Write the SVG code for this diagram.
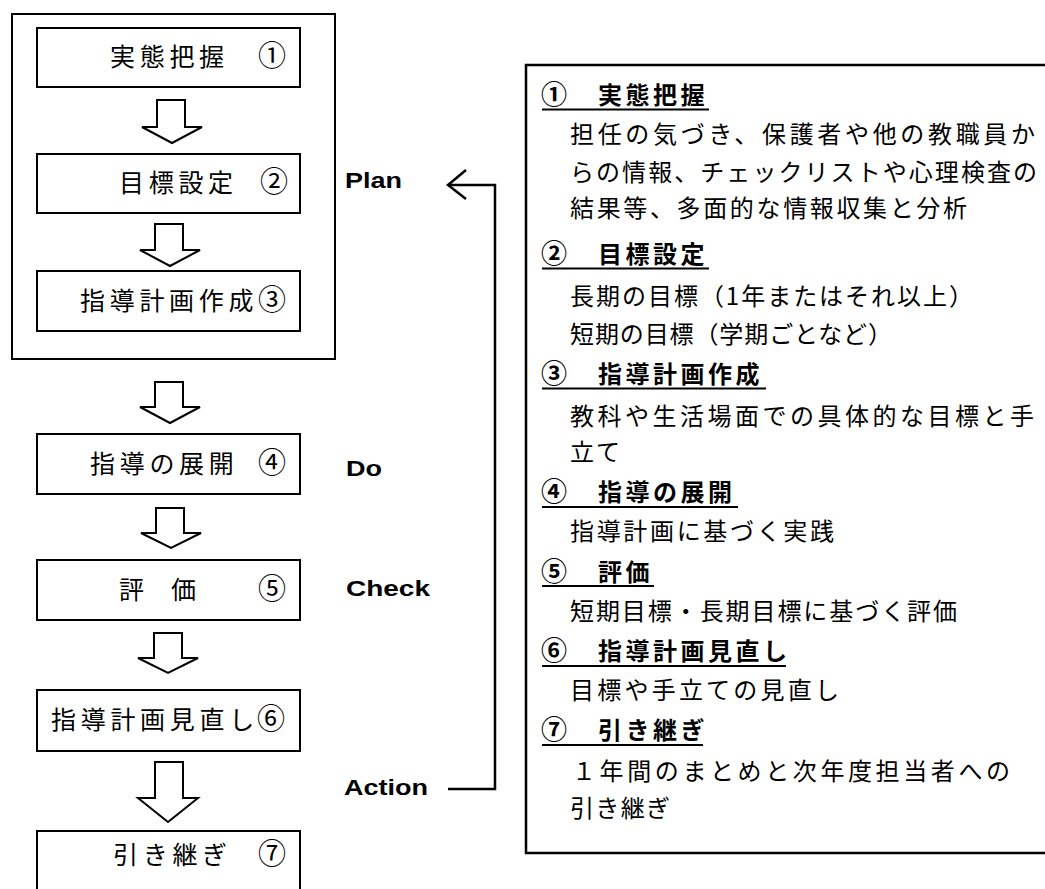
<svg xmlns="http://www.w3.org/2000/svg" width="1045" height="889" viewBox="0 0 1045 889">
<style>
.box{fill:#fff;stroke:#000;stroke-width:2}
.arr{fill:#fff;stroke:#000;stroke-width:2;stroke-linejoin:miter}
.lbl{font-family:"Noto Sans CJK JP","Noto Sans CJK SC",sans-serif;font-size:25px;letter-spacing:4.7px;fill:#000}
.cn{font-size:28px;letter-spacing:0}
.pdca{font-family:"Liberation Sans",Arial,sans-serif;font-weight:bold;font-size:22px;fill:#000}
.h{font-family:"Noto Sans CJK JP","Noto Sans CJK SC",sans-serif;font-size:24px;font-weight:bold;letter-spacing:3.5px;fill:#000}
.hc{font-size:26px;letter-spacing:0}
.b{font-family:"Noto Sans CJK JP","Noto Sans CJK SC",sans-serif;font-size:24px;fill:#000}
.ul{stroke:#000;stroke-width:2}
.conn{fill:none;stroke:#000;stroke-width:2.5}
</style>
<rect width="1045" height="889" fill="#fff"/>
<g id="plan-group"><rect x="12" y="14" width="323" height="345" fill="none" stroke="#000" stroke-width="2"/></g>
<g id="node1"><rect class="box" x="37" y="28" width="263" height="59"/><text class="lbl" x="110" y="66">実態把握<tspan class="cn" x="258">①</tspan></text></g>
<g id="node2"><rect class="box" x="37" y="154" width="263" height="59"/><text class="lbl" x="119" y="192">目標設定<tspan class="cn" x="260">②</tspan></text></g>
<g id="node3"><rect class="box" x="37" y="271" width="263" height="60"/><text class="lbl" x="80" y="310">指導計画作成<tspan class="cn" x="258">③</tspan></text></g>
<g id="node4"><rect class="box" x="37" y="434" width="263" height="60"/><text class="lbl" x="90" y="473">指導の展開<tspan class="cn" x="258">④</tspan></text></g>
<g id="node5"><rect class="box" x="37" y="560" width="263" height="60"/><text class="lbl" x="119" y="599">評<tspan x="171">価</tspan><tspan class="cn" x="258">⑤</tspan></text></g>
<g id="node6"><rect class="box" x="37" y="690" width="263" height="61"/><text class="lbl" x="51" y="729">指導計画見直し<tspan class="cn" x="257">⑥</tspan></text></g>
<g id="node7"><rect class="box" x="37" y="831" width="263" height="80"/><text class="lbl" x="113" y="864">引き継ぎ<tspan class="cn" x="258">⑦</tspan></text></g>
<g id="pdca-labels">
<text class="pdca" x="345" y="188" textLength="57" lengthAdjust="spacingAndGlyphs">Plan</text>
<text class="pdca" x="346" y="476" textLength="36" lengthAdjust="spacingAndGlyphs">Do</text>
<text class="pdca" x="346" y="596" textLength="84" lengthAdjust="spacingAndGlyphs">Check</text>
<text class="pdca" x="344" y="795" textLength="84" lengthAdjust="spacingAndGlyphs">Action</text>
</g>
<g id="connectors">
<path class="arr" d="M157,100 H185 V127 H202 L172,143 L142,127 H157 Z"/>
<path class="arr" d="M155,224 H183 V250 H200 L170,266 L140,250 H155 Z"/>
<path class="arr" d="M155,382 H183 V407 H200 L170,423 L140,407 H155 Z"/>
<path class="arr" d="M156,508 H184 V533 H201 L171,548 L141,533 H156 Z"/>
<path class="arr" d="M154,633 H182 V658 H198 L168,673 L138,658 H154 Z"/>
<path class="arr" d="M155,762 H183 V798 H198 L168,822 L138,798 H155 Z"/>
<path class="conn" d="M448,789 H495 V185 H448"/>
<path class="conn" d="M466,170 L448,185 L466,199"/>
</g>
<g id="detail-panel">
<rect x="526" y="65" width="540" height="788" fill="none" stroke="#000" stroke-width="2.5"/>
<text class="h" x="541" y="104"><tspan class="hc">①</tspan><tspan x="598">実態把握</tspan></text>
<line class="ul" x1="542" y1="109.5" x2="709" y2="109.5"/>
<text class="b" x="570" y="143" textLength="465" lengthAdjust="spacing">担任の気づき、保護者や他の教職員か</text>
<text class="b" x="570" y="181" textLength="467" lengthAdjust="spacing">らの情報、チェックリストや心理検査の</text>
<text class="b" x="570" y="217" textLength="397" lengthAdjust="spacing">結果等、多面的な情報収集と分析</text>
<text class="h" x="541" y="263"><tspan class="hc">②</tspan><tspan x="598">目標設定</tspan></text>
<line class="ul" x1="542" y1="268.5" x2="709" y2="268.5"/>
<text class="b" x="570" y="305" textLength="403" lengthAdjust="spacing">長期の目標（1年またはそれ以上）</text>
<text class="b" x="570" y="343" textLength="322" lengthAdjust="spacing">短期の目標（学期ごとなど）</text>
<text class="h" x="541" y="383"><tspan class="hc">③</tspan><tspan x="598">指導計画作成</tspan></text>
<line class="ul" x1="542" y1="388.5" x2="766" y2="388.5"/>
<text class="b" x="570" y="425" textLength="464" lengthAdjust="spacing">教科や生活場面での具体的な目標と手</text>
<text class="b" x="570" y="461" textLength="50" lengthAdjust="spacing">立て</text>
<text class="h" x="541" y="501"><tspan class="hc">④</tspan><tspan x="598">指導の展開</tspan></text>
<line class="ul" x1="542" y1="507" x2="738" y2="507"/>
<text class="b" x="570" y="540" textLength="264" lengthAdjust="spacing">指導計画に基づく実践</text>
<text class="h" x="541" y="581"><tspan class="hc">⑤</tspan><tspan x="598">評価</tspan></text>
<line class="ul" x1="542" y1="586" x2="654" y2="586"/>
<text class="b" x="570" y="620" textLength="387" lengthAdjust="spacing">短期目標・長期目標に基づく評価</text>
<text class="h" x="541" y="660"><tspan class="hc">⑥</tspan><tspan x="598">指導計画見直し</tspan></text>
<line class="ul" x1="542" y1="666" x2="786" y2="666"/>
<text class="b" x="570" y="699" textLength="269" lengthAdjust="spacing">目標や手立ての見直し</text>
<text class="h" x="541" y="739"><tspan class="hc">⑦</tspan><tspan x="598">引き継ぎ</tspan></text>
<line class="ul" x1="542" y1="745" x2="703" y2="745"/>
<text class="b" x="572" y="780" textLength="438" lengthAdjust="spacing">１年間のまとめと次年度担当者への</text>
<text class="b" x="570" y="817" textLength="100" lengthAdjust="spacing">引き継ぎ</text>
</g>
</svg>
